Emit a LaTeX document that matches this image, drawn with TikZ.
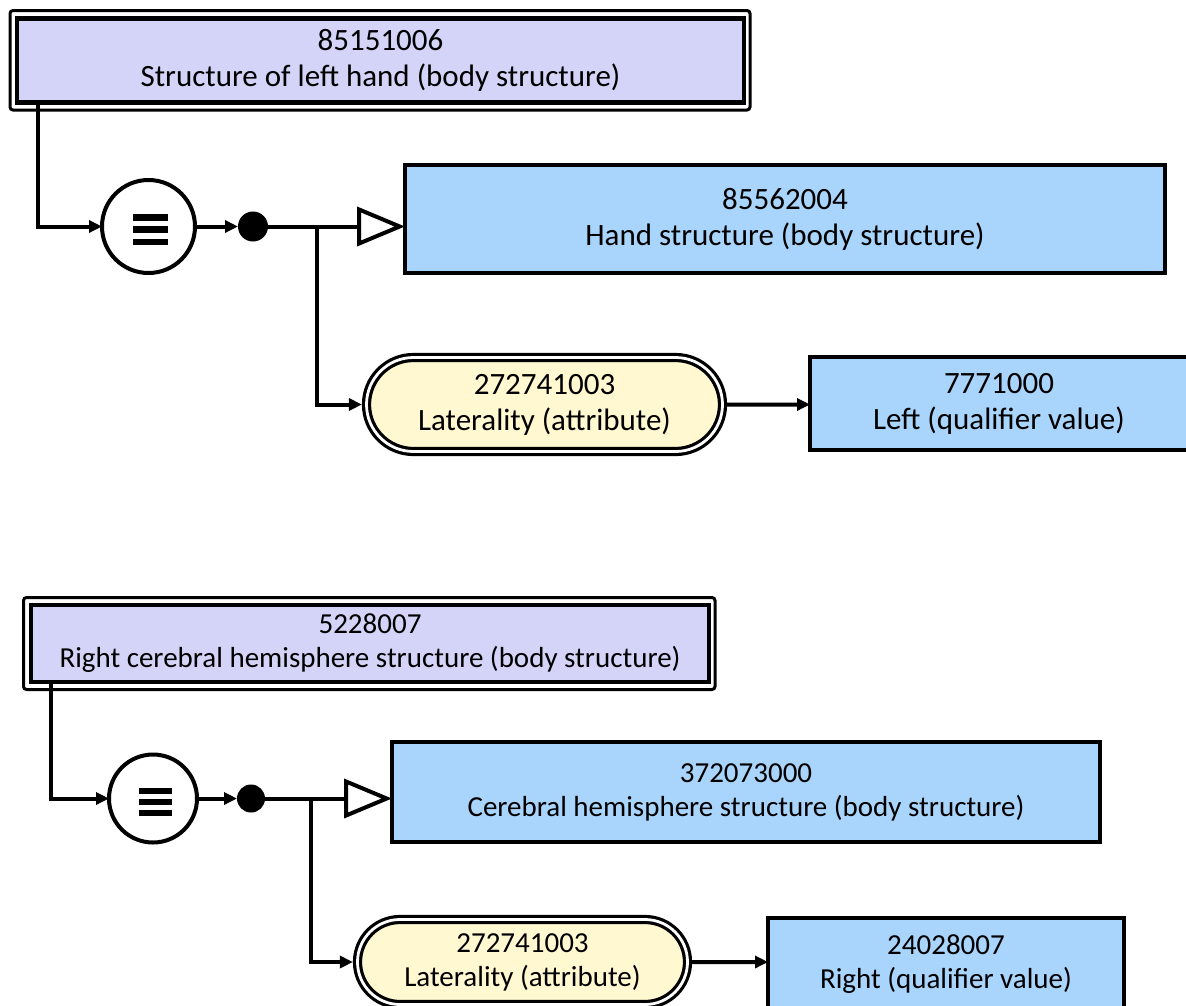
\documentclass[tikz,border=0pt]{standalone}
\usepackage{fontspec}
\setmainfont{Carlito}
\usetikzlibrary{arrows.meta,shapes.misc}
\definecolor{lav}{HTML}{D4D4F8}
\definecolor{skyb}{HTML}{A9D4FB}
\definecolor{attry}{HTML}{FFF8D1}
\newcommand\topfont{\fontsize{31}{36}\selectfont}
\newcommand\botfont{\fontsize{29}{34}\selectfont}
\begin{document}
\begin{tikzpicture}[x=1pt,y=-1pt,
  conceptbox/.style={rectangle, draw, line width=4.5pt, fill=skyb, inner sep=0pt, outer sep=0pt, align=center},
  defbox/.style={conceptbox, fill=lav},
  frame/.style={draw, line width=3pt, rounded corners=3pt},
  attroval/.style={rounded rectangle, draw, line width=3.2pt, double=white, double distance=2.8pt, fill=attry, inner sep=0pt, outer sep=4.6pt, align=center},
  eqcirc/.style={circle, draw, line width=4pt, fill=white, inner sep=0pt, outer sep=0pt},
  blob/.style={circle, fill=black, inner sep=0pt, outer sep=0pt},
  conn/.style={draw, line width=4pt},
  arr/.style={-{Triangle[length=13pt,width=12pt]}},
  isa/.style={-{Triangle[open,length=48pt,width=39pt,line width=4pt]}},
  bar/.style={line width=#1},
]
\useasboundingbox (0,0) rectangle (1186,1005);

% ---------- top section ----------
\node[defbox, font=\topfont, minimum width=727pt, minimum height=84pt] (A) at (380.5,60.5) {85151006\\Structure of left hand (body structure)};
\draw[frame] ([shift={(-7,-8)}]A.north west) rectangle ([shift={(6,7.5)}]A.south east);
\node[conceptbox, font=\topfont, minimum width=760pt, minimum height=108pt] (B) at (785,219) {85562004\\Hand structure (body structure)};
\node[eqcirc, minimum size=93pt] (c1) at (148.5,226.5) {};
\foreach \dy in {-12.2,0,12.2}
  \draw[bar=6.5pt] ([shift={(-15.2,\dy+3.1)}]c1.center) -- ([shift={(19.8,\dy+3.1)}]c1.center);
\node[blob, minimum size=30pt] (d1) at (253,226.5) {};
\coordinate (j1) at (317,226.5);
\node[attroval, font=\topfont, minimum width=356pt, minimum height=94pt] (L1) at (544.5,404.5) {272741003\\Laterality (attribute)};
\node[conceptbox, font=\topfont, minimum width=378pt, minimum height=93pt] (C) at (999,403.5) {7771000\\Left (qualifier value)};

\draw[conn, arr] ([xshift=21pt]A.south west) |- (c1);
\draw[conn, arr] (c1) -- (d1);
\draw[conn, isa] (d1) -- (d1 -| B.west);
\draw[conn, arr] (j1) |- (L1);
\draw[conn, arr] (L1) -- (L1 -| C.west);

% ---------- bottom section ----------
\node[defbox, font=\botfont, minimum width=678pt, minimum height=77pt] (D) at (370,643.5) {5228007\\Right cerebral hemisphere structure (body structure)};
\draw[frame] ([shift={(-7.5,-7.5)}]D.north west) rectangle ([shift={(6,7.5)}]D.south east);
\node[conceptbox, font=\botfont, minimum width=708pt, minimum height=100pt] (E) at (746,792) {372073000\\Cerebral hemisphere structure (body structure)};
\node[eqcirc, minimum size=88pt] (c2) at (153,798.5) {};
\foreach \dy in {-11,0,11}
  \draw[bar=5.8pt] ([shift={(-14,\dy+3.5)}]c2.center) -- ([shift={(19,\dy+3.5)}]c2.center);
\node[blob, minimum size=28pt] (d2) at (251,798.5) {};
\coordinate (j2) at (311,798.5);
\node[attroval, font=\botfont, minimum width=330pt, minimum height=85pt] (L2) at (522.5,962) {272741003\\Laterality (attribute)};
\node[conceptbox, font=\botfont, minimum width=356pt, minimum height=93pt] (F) at (946,964.5) {24028007\\Right (qualifier value)};

\draw[conn, arr] ([xshift=20pt]D.south west) |- (c2);
\draw[conn, arr] (c2) -- (d2);
\draw[conn, isa] (d2) -- (d2 -| E.west);
\draw[conn, arr] (j2) |- (L2);
\draw[conn, arr] (L2) -- (L2 -| F.west);
\end{tikzpicture}
\end{document}
